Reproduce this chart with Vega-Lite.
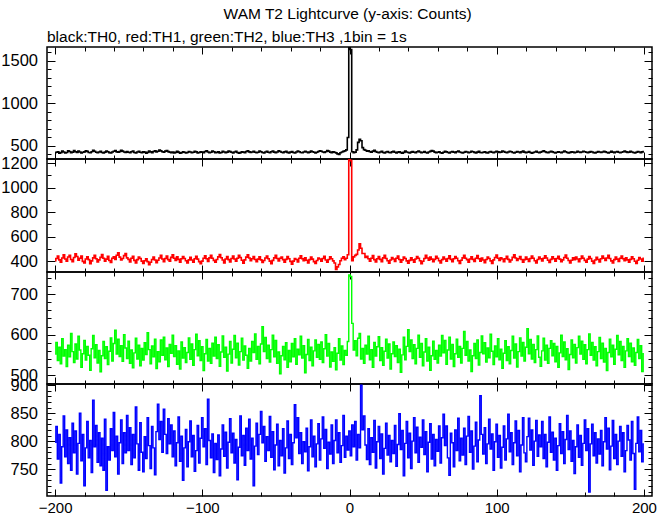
{
"$schema": "https://vega.github.io/schema/vega-lite/v6.json",
"padding": {"left": 0, "top": 7, "right": 12, "bottom": 0},
"background": "white",
"bounds": "flush",
"title": {"text": "WAM T2 Lightcurve (y-axis: Counts)", "anchor": "middle", "dx": 19, "font": "Liberation Sans", "fontSize": 15.5, "fontWeight": "normal", "color": "black", "baseline": "alphabetic", "offset": -6},
"datasets": {"lc": [
{"t":-200,"a":418,"b":402,"c":552,"d":798},{"t":-199,"a":425,"b":420,"c":581,"d":826},{"t":-198,"a":431,"b":440,"c":536,"d":768},{"t":-197,"a":412,"b":409,"c":569,"d":812},{"t":-196,"a":420,"b":390,"c":528,"d":725},{"t":-195,"a":437,"b":425,"c":590,"d":790},{"t":-194,"a":428,"b":451,"c":547,"d":845},{"t":-193,"a":415,"b":416,"c":563,"d":772},{"t":-192,"a":422,"b":399,"c":521,"d":820},{"t":-191,"a":440,"b":433,"c":574,"d":760},
{"t":-190,"a":433,"b":447,"c":545,"d":806},{"t":-189,"a":419,"b":412,"c":603,"d":748},{"t":-188,"a":426,"b":394,"c":558,"d":832},{"t":-187,"a":445,"b":429,"c":531,"d":779},{"t":-186,"a":430,"b":460,"c":577,"d":818},{"t":-185,"a":421,"b":437,"c":540,"d":741},{"t":-184,"a":438,"b":406,"c":596,"d":796},{"t":-183,"a":427,"b":422,"c":562,"d":850},{"t":-182,"a":416,"b":441,"c":519,"d":765},{"t":-181,"a":424,"b":397,"c":553,"d":812},
{"t":-180,"a":429,"b":385,"c":586,"d":720},{"t":-179,"a":441,"b":416,"c":537,"d":788},{"t":-178,"a":435,"b":434,"c":571,"d":835},{"t":-177,"a":422,"b":411,"c":549,"d":770},{"t":-176,"a":418,"b":377,"c":512,"d":801},{"t":-175,"a":430,"b":401,"c":565,"d":744},{"t":-174,"a":447,"b":426,"c":598,"d":873},{"t":-173,"a":436,"b":446,"c":543,"d":790},{"t":-172,"a":425,"b":419,"c":575,"d":828},{"t":-171,"a":419,"b":392,"c":530,"d":762},
{"t":-170,"a":428,"b":409,"c":561,"d":815},{"t":-169,"a":434,"b":430,"c":508,"d":756},{"t":-168,"a":421,"b":453,"c":548,"d":805},{"t":-167,"a":415,"b":422,"c":583,"d":748},{"t":-166,"a":426,"b":398,"c":541,"d":839},{"t":-165,"a":439,"b":415,"c":570,"d":712},{"t":-164,"a":431,"b":439,"c":526,"d":790},{"t":-163,"a":420,"b":404,"c":559,"d":766},{"t":-162,"a":417,"b":388,"c":592,"d":822},{"t":-161,"a":427,"b":423,"c":535,"d":783},
{"t":-160,"a":436,"b":434,"c":578,"d":851},{"t":-159,"a":443,"b":412,"c":611,"d":772},{"t":-158,"a":429,"b":447,"c":552,"d":809},{"t":-157,"a":424,"b":468,"c":589,"d":741},{"t":-156,"a":432,"b":432,"c":546,"d":797},{"t":-155,"a":446,"b":408,"c":573,"d":838},{"t":-154,"a":438,"b":420,"c":534,"d":760},{"t":-153,"a":427,"b":444,"c":600,"d":815},{"t":-152,"a":421,"b":461,"c":567,"d":779},{"t":-151,"a":433,"b":426,"c":541,"d":846},
{"t":-150,"a":425,"b":413,"c":584,"d":783},{"t":-149,"a":418,"b":392,"c":529,"d":824},{"t":-148,"a":430,"b":423,"c":562,"d":758},{"t":-147,"a":437,"b":439,"c":518,"d":812},{"t":-146,"a":422,"b":405,"c":555,"d":770},{"t":-145,"a":416,"b":384,"c":591,"d":861},{"t":-144,"a":428,"b":411,"c":540,"d":795},{"t":-143,"a":435,"b":432,"c":574,"d":748},{"t":-142,"a":424,"b":420,"c":523,"d":833},{"t":-141,"a":419,"b":399,"c":566,"d":780},
{"t":-140,"a":431,"b":380,"c":537,"d":745},{"t":-139,"a":426,"b":402,"c":580,"d":808},{"t":-138,"a":414,"b":419,"c":551,"d":769},{"t":-137,"a":423,"b":395,"c":605,"d":842},{"t":-136,"a":438,"b":369,"c":563,"d":792},{"t":-135,"a":429,"b":390,"c":528,"d":751},{"t":-134,"a":420,"b":412,"c":572,"d":826},{"t":-133,"a":433,"b":433,"c":545,"d":788},{"t":-132,"a":442,"b":408,"c":589,"d":740},{"t":-131,"a":427,"b":387,"c":516,"d":817},
{"t":-130,"a":436,"b":406,"c":558,"d":866},{"t":-129,"a":449,"b":425,"c":533,"d":803},{"t":-128,"a":440,"b":446,"c":587,"d":835},{"t":-127,"a":431,"b":416,"c":549,"d":780},{"t":-126,"a":425,"b":394,"c":594,"d":857},{"t":-125,"a":437,"b":420,"c":538,"d":812},{"t":-124,"a":444,"b":441,"c":567,"d":778},{"t":-123,"a":432,"b":411,"c":521,"d":840},{"t":-122,"a":426,"b":398,"c":576,"d":795},{"t":-121,"a":420,"b":430,"c":554,"d":829},
{"t":-120,"a":428,"b":450,"c":599,"d":772},{"t":-119,"a":417,"b":423,"c":546,"d":818},{"t":-118,"a":423,"b":404,"c":573,"d":756},{"t":-117,"a":434,"b":434,"c":527,"d":797},{"t":-116,"a":426,"b":413,"c":560,"d":843},{"t":-115,"a":413,"b":391,"c":515,"d":764},{"t":-114,"a":419,"b":418,"c":582,"d":809},{"t":-113,"a":430,"b":437,"c":542,"d":730},{"t":-112,"a":425,"b":420,"c":568,"d":788},{"t":-111,"a":416,"b":402,"c":531,"d":821},
{"t":-110,"a":421,"b":384,"c":556,"d":754},{"t":-109,"a":432,"b":409,"c":592,"d":799},{"t":-108,"a":427,"b":430,"c":539,"d":836},{"t":-107,"a":418,"b":408,"c":577,"d":772},{"t":-106,"a":424,"b":390,"c":524,"d":810},{"t":-105,"a":436,"b":419,"c":563,"d":746},{"t":-104,"a":429,"b":439,"c":601,"d":783},{"t":-103,"a":415,"b":415,"c":548,"d":828},{"t":-102,"a":422,"b":395,"c":585,"d":761},{"t":-101,"a":431,"b":378,"c":536,"d":805},
{"t":-100,"a":426,"b":399,"c":570,"d":842},{"t":-99,"a":419,"b":422,"c":511,"d":790},{"t":-98,"a":433,"b":443,"c":553,"d":822},{"t":-97,"a":441,"b":418,"c":588,"d":758},{"t":-96,"a":428,"b":397,"c":535,"d":875},{"t":-95,"a":420,"b":426,"c":566,"d":801},{"t":-94,"a":425,"b":447,"c":529,"d":770},{"t":-93,"a":437,"b":423,"c":579,"d":813},{"t":-92,"a":430,"b":405,"c":547,"d":744},{"t":-91,"a":418,"b":390,"c":594,"d":796},
{"t":-90,"a":423,"b":412,"c":541,"d":767},{"t":-89,"a":429,"b":434,"c":575,"d":811},{"t":-88,"a":416,"b":453,"c":522,"d":738},{"t":-87,"a":421,"b":427,"c":557,"d":786},{"t":-86,"a":434,"b":408,"c":597,"d":829},{"t":-85,"a":427,"b":385,"c":544,"d":773},{"t":-84,"a":419,"b":416,"c":569,"d":816},{"t":-83,"a":426,"b":436,"c":510,"d":752},{"t":-82,"a":438,"b":411,"c":552,"d":798},{"t":-81,"a":432,"b":392,"c":583,"d":840},
{"t":-80,"a":424,"b":420,"c":530,"d":779},{"t":-79,"a":417,"b":440,"c":564,"d":814},{"t":-78,"a":428,"b":416,"c":598,"d":761},{"t":-77,"a":435,"b":398,"c":543,"d":803},{"t":-76,"a":422,"b":423,"c":579,"d":731},{"t":-75,"a":414,"b":446,"c":525,"d":789},{"t":-74,"a":420,"b":429,"c":558,"d":845},{"t":-73,"a":431,"b":406,"c":591,"d":774},{"t":-72,"a":426,"b":383,"c":537,"d":810},{"t":-71,"a":419,"b":409,"c":572,"d":757},
{"t":-70,"a":433,"b":432,"c":549,"d":823},{"t":-69,"a":440,"b":450,"c":517,"d":783},{"t":-68,"a":429,"b":425,"c":566,"d":839},{"t":-67,"a":421,"b":402,"c":535,"d":768},{"t":-66,"a":427,"b":419,"c":583,"d":805},{"t":-65,"a":436,"b":437,"c":556,"d":720},{"t":-64,"a":424,"b":412,"c":602,"d":791},{"t":-63,"a":418,"b":394,"c":539,"d":832},{"t":-62,"a":425,"b":415,"c":571,"d":776},{"t":-61,"a":439,"b":434,"c":528,"d":812},
{"t":-60,"a":431,"b":409,"c":577,"d":853},{"t":-59,"a":422,"b":388,"c":620,"d":797},{"t":-58,"a":416,"b":404,"c":558,"d":826},{"t":-57,"a":428,"b":425,"c":593,"d":764},{"t":-56,"a":434,"b":441,"c":541,"d":808},{"t":-55,"a":425,"b":419,"c":574,"d":783},{"t":-54,"a":419,"b":399,"c":532,"d":844},{"t":-53,"a":430,"b":378,"c":563,"d":771},{"t":-52,"a":437,"b":405,"c":599,"d":817},{"t":-51,"a":426,"b":426,"c":545,"d":749},
{"t":-50,"a":420,"b":446,"c":586,"d":793},{"t":-49,"a":427,"b":420,"c":529,"d":830},{"t":-48,"a":441,"b":401,"c":557,"d":756},{"t":-47,"a":433,"b":422,"c":503,"d":801},{"t":-46,"a":424,"b":433,"c":548,"d":774},{"t":-45,"a":418,"b":411,"c":571,"d":822},{"t":-44,"a":429,"b":391,"c":538,"d":743},{"t":-43,"a":436,"b":413,"c":580,"d":788},{"t":-42,"a":423,"b":436,"c":519,"d":836},{"t":-41,"a":417,"b":418,"c":561,"d":769},
{"t":-40,"a":426,"b":397,"c":533,"d":812},{"t":-39,"a":432,"b":374,"c":578,"d":758},{"t":-38,"a":421,"b":399,"c":545,"d":797},{"t":-37,"a":415,"b":420,"c":590,"d":865},{"t":-36,"a":428,"b":412,"c":527,"d":806},{"t":-35,"a":438,"b":392,"c":564,"d":842},{"t":-34,"a":430,"b":423,"c":550,"d":778},{"t":-33,"a":422,"b":443,"c":596,"d":815},{"t":-32,"a":419,"b":419,"c":542,"d":760},{"t":-31,"a":427,"b":402,"c":573,"d":799},
{"t":-30,"a":435,"b":426,"c":506,"d":781},{"t":-29,"a":428,"b":406,"c":551,"d":823},{"t":-28,"a":420,"b":385,"c":588,"d":747},{"t":-27,"a":426,"b":411,"c":536,"d":790},{"t":-26,"a":439,"b":432,"c":569,"d":838},{"t":-25,"a":431,"b":415,"c":523,"d":772},{"t":-24,"a":424,"b":395,"c":560,"d":809},{"t":-23,"a":417,"b":380,"c":587,"d":754},{"t":-22,"a":425,"b":404,"c":544,"d":795},{"t":-21,"a":433,"b":425,"c":576,"d":831},
{"t":-20,"a":442,"b":416,"c":539,"d":766},{"t":-19,"a":436,"b":398,"c":582,"d":804},{"t":-18,"a":427,"b":420,"c":531,"d":843},{"t":-17,"a":421,"b":439,"c":565,"d":787},{"t":-16,"a":430,"b":408,"c":600,"d":821},{"t":-15,"a":445,"b":390,"c":547,"d":751},{"t":-14,"a":438,"b":412,"c":578,"d":798},{"t":-13,"a":426,"b":434,"c":520,"d":777},{"t":-12,"a":420,"b":418,"c":557,"d":829},{"t":-11,"a":431,"b":401,"c":534,"d":760},
{"t":-10,"a":424,"b":384,"c":568,"d":801},{"t":-9,"a":417,"b":330,"c":513,"d":838},{"t":-8,"a":405,"b":352,"c":554,"d":779},{"t":-7,"a":398,"b":372,"c":590,"d":815},{"t":-6,"a":419,"b":402,"c":537,"d":762},{"t":-5,"a":428,"b":422,"c":572,"d":792},{"t":-4,"a":434,"b":434,"c":526,"d":846},{"t":-3,"a":440,"b":411,"c":561,"d":771},{"t":-2,"a":452,"b":423,"c":549,"d":809},{"t":-1,"a":598,"b":451,"c":583,"d":784},
{"t":0,"a":1655,"b":1230,"c":748,"d":818},{"t":1,"a":1630,"b":1222,"c":744,"d":774},{"t":2,"a":430,"b":402,"c":628,"d":829},{"t":3,"a":418,"b":434,"c":562,"d":790},{"t":4,"a":426,"b":446,"c":585,"d":835},{"t":5,"a":452,"b":454,"c":548,"d":766},{"t":6,"a":540,"b":490,"c":591,"d":812},{"t":7,"a":575,"b":540,"c":603,"d":788},{"t":8,"a":560,"b":505,"c":540,"d":900},{"t":9,"a":478,"b":462,"c":566,"d":820},
{"t":10,"a":455,"b":462,"c":529,"d":845},{"t":11,"a":448,"b":430,"c":574,"d":793},{"t":12,"a":436,"b":439,"c":552,"d":767},{"t":13,"a":441,"b":418,"c":596,"d":822},{"t":14,"a":430,"b":398,"c":538,"d":758},{"t":15,"a":425,"b":423,"c":563,"d":806},{"t":16,"a":437,"b":444,"c":519,"d":780},{"t":17,"a":446,"b":411,"c":581,"d":837},{"t":18,"a":432,"b":392,"c":547,"d":752},{"t":19,"a":424,"b":419,"c":570,"d":799},
{"t":20,"a":419,"b":436,"c":595,"d":826},{"t":21,"a":428,"b":413,"c":536,"d":769},{"t":22,"a":435,"b":395,"c":568,"d":813},{"t":23,"a":422,"b":426,"c":524,"d":741},{"t":24,"a":416,"b":447,"c":559,"d":787},{"t":25,"a":427,"b":420,"c":589,"d":832},{"t":26,"a":433,"b":402,"c":542,"d":775},{"t":27,"a":421,"b":383,"c":577,"d":810},{"t":28,"a":418,"b":408,"c":515,"d":763},{"t":29,"a":429,"b":429,"c":553,"d":801},
{"t":30,"a":436,"b":416,"c":582,"d":778},{"t":31,"a":424,"b":397,"c":546,"d":828},{"t":32,"a":417,"b":423,"c":573,"d":755},{"t":33,"a":426,"b":441,"c":531,"d":794},{"t":34,"a":431,"b":412,"c":564,"d":849},{"t":35,"a":420,"b":391,"c":507,"d":785},{"t":36,"a":414,"b":409,"c":550,"d":819},{"t":37,"a":423,"b":432,"c":594,"d":738},{"t":38,"a":437,"b":420,"c":538,"d":796},{"t":39,"a":428,"b":401,"c":571,"d":835},
{"t":40,"a":421,"b":383,"c":612,"d":770},{"t":41,"a":415,"b":405,"c":558,"d":814},{"t":42,"a":426,"b":427,"c":587,"d":751},{"t":43,"a":433,"b":409,"c":541,"d":800},{"t":44,"a":424,"b":390,"c":575,"d":842},{"t":45,"a":418,"b":416,"c":528,"d":779},{"t":46,"a":430,"b":437,"c":566,"d":825},{"t":47,"a":438,"b":422,"c":599,"d":762},{"t":48,"a":427,"b":402,"c":544,"d":807},{"t":49,"a":420,"b":378,"c":578,"d":789},
{"t":50,"a":425,"b":398,"c":523,"d":838},{"t":51,"a":432,"b":420,"c":557,"d":776},{"t":52,"a":421,"b":446,"c":590,"d":817},{"t":53,"a":416,"b":425,"c":535,"d":745},{"t":54,"a":428,"b":406,"c":569,"d":798},{"t":55,"a":434,"b":432,"c":512,"d":831},{"t":56,"a":445,"b":415,"c":548,"d":768},{"t":57,"a":437,"b":394,"c":584,"d":812},{"t":58,"a":426,"b":413,"c":539,"d":756},{"t":59,"a":419,"b":439,"c":561,"d":803},
{"t":60,"a":424,"b":423,"c":530,"d":782},{"t":61,"a":430,"b":402,"c":574,"d":827},{"t":62,"a":418,"b":384,"c":547,"d":761},{"t":63,"a":413,"b":411,"c":598,"d":806},{"t":64,"a":425,"b":433,"c":555,"d":848},{"t":65,"a":436,"b":416,"c":586,"d":792},{"t":66,"a":429,"b":398,"c":527,"d":827},{"t":67,"a":422,"b":420,"c":562,"d":770},{"t":68,"a":417,"b":443,"c":594,"d":739},{"t":69,"a":428,"b":413,"c":540,"d":814},
{"t":70,"a":433,"b":394,"c":576,"d":797},{"t":71,"a":426,"b":418,"c":521,"d":754},{"t":72,"a":420,"b":437,"c":553,"d":820},{"t":73,"a":431,"b":422,"c":589,"d":783},{"t":74,"a":439,"b":402,"c":544,"d":841},{"t":75,"a":428,"b":380,"c":571,"d":765},{"t":76,"a":421,"b":406,"c":530,"d":805},{"t":77,"a":415,"b":426,"c":566,"d":775},{"t":78,"a":424,"b":447,"c":608,"d":823},{"t":79,"a":432,"b":423,"c":549,"d":758},
{"t":80,"a":427,"b":411,"c":583,"d":809},{"t":81,"a":419,"b":391,"c":535,"d":844},{"t":82,"a":425,"b":416,"c":562,"d":780},{"t":83,"a":436,"b":434,"c":509,"d":818},{"t":84,"a":430,"b":413,"c":548,"d":750},{"t":85,"a":423,"b":397,"c":578,"d":791},{"t":86,"a":417,"b":422,"c":541,"d":834},{"t":87,"a":426,"b":444,"c":587,"d":763},{"t":88,"a":434,"b":419,"c":525,"d":802},{"t":89,"a":421,"b":399,"c":556,"d":881},
{"t":90,"a":418,"b":425,"c":597,"d":812},{"t":91,"a":424,"b":408,"c":553,"d":777},{"t":92,"a":431,"b":387,"c":580,"d":824},{"t":93,"a":420,"b":412,"c":532,"d":760},{"t":94,"a":415,"b":432,"c":567,"d":795},{"t":95,"a":427,"b":420,"c":543,"d":839},{"t":96,"a":433,"b":401,"c":601,"d":786},{"t":97,"a":425,"b":381,"c":559,"d":813},{"t":98,"a":419,"b":409,"c":526,"d":748},{"t":99,"a":428,"b":429,"c":572,"d":799},
{"t":100,"a":436,"b":448,"c":545,"d":830},{"t":101,"a":429,"b":422,"c":590,"d":771},{"t":102,"a":421,"b":404,"c":538,"d":810},{"t":103,"a":426,"b":426,"c":564,"d":752},{"t":104,"a":438,"b":416,"c":517,"d":789},{"t":105,"a":432,"b":395,"c":554,"d":827},{"t":106,"a":424,"b":419,"c":585,"d":766},{"t":107,"a":418,"b":439,"c":536,"d":804},{"t":108,"a":427,"b":413,"c":570,"d":848},{"t":109,"a":435,"b":392,"c":528,"d":781},
{"t":110,"a":430,"b":408,"c":561,"d":815},{"t":111,"a":422,"b":430,"c":596,"d":758},{"t":112,"a":416,"b":451,"c":542,"d":797},{"t":113,"a":425,"b":425,"c":577,"d":836},{"t":114,"a":433,"b":405,"c":520,"d":774},{"t":115,"a":427,"b":418,"c":558,"d":819},{"t":116,"a":420,"b":436,"c":592,"d":745},{"t":117,"a":429,"b":412,"c":547,"d":793},{"t":118,"a":437,"b":390,"c":581,"d":842},{"t":119,"a":426,"b":411,"c":535,"d":779},
{"t":120,"a":419,"b":433,"c":569,"d":763},{"t":121,"a":425,"b":415,"c":615,"d":808},{"t":122,"a":432,"b":397,"c":553,"d":841},{"t":123,"a":421,"b":420,"c":588,"d":784},{"t":124,"a":414,"b":440,"c":540,"d":820},{"t":125,"a":422,"b":423,"c":576,"d":757},{"t":126,"a":428,"b":402,"c":531,"d":800},{"t":127,"a":435,"b":385,"c":563,"d":837},{"t":128,"a":424,"b":412,"c":597,"d":773},{"t":129,"a":418,"b":432,"c":544,"d":811},
{"t":130,"a":426,"b":419,"c":522,"d":790},{"t":131,"a":433,"b":401,"c":560,"d":835},{"t":132,"a":440,"b":422,"c":591,"d":769},{"t":133,"a":431,"b":443,"c":537,"d":812},{"t":134,"a":423,"b":425,"c":574,"d":754},{"t":135,"a":419,"b":406,"c":529,"d":798},{"t":136,"a":427,"b":388,"c":566,"d":843},{"t":137,"a":436,"b":413,"c":585,"d":780},{"t":138,"a":429,"b":434,"c":548,"d":816},{"t":139,"a":421,"b":418,"c":578,"d":766},
{"t":140,"a":417,"b":398,"c":533,"d":805},{"t":141,"a":424,"b":420,"c":571,"d":748},{"t":142,"a":431,"b":439,"c":519,"d":792},{"t":143,"a":425,"b":415,"c":555,"d":831},{"t":144,"a":418,"b":394,"c":599,"d":778},{"t":145,"a":428,"b":409,"c":546,"d":817},{"t":146,"a":437,"b":429,"c":582,"d":760},{"t":147,"a":430,"b":448,"c":538,"d":803},{"t":148,"a":422,"b":422,"c":565,"d":846},{"t":149,"a":416,"b":404,"c":514,"d":785},
{"t":150,"a":423,"b":385,"c":551,"d":818},{"t":151,"a":430,"b":406,"c":587,"d":764},{"t":152,"a":426,"b":426,"c":543,"d":801},{"t":153,"a":419,"b":411,"c":576,"d":742},{"t":154,"a":425,"b":433,"c":530,"d":790},{"t":155,"a":434,"b":416,"c":568,"d":829},{"t":156,"a":428,"b":395,"c":596,"d":771},{"t":157,"a":421,"b":418,"c":552,"d":810},{"t":158,"a":427,"b":441,"c":584,"d":757},{"t":159,"a":436,"b":423,"c":539,"d":796},
{"t":160,"a":431,"b":405,"c":575,"d":838},{"t":161,"a":424,"b":390,"c":528,"d":783},{"t":162,"a":418,"b":415,"c":563,"d":822},{"t":163,"a":426,"b":436,"c":602,"d":709},{"t":164,"a":433,"b":420,"c":549,"d":795},{"t":165,"a":427,"b":399,"c":581,"d":830},{"t":166,"a":420,"b":381,"c":537,"d":774},{"t":167,"a":415,"b":408,"c":570,"d":815},{"t":168,"a":424,"b":430,"c":523,"d":761},{"t":169,"a":432,"b":412,"c":558,"d":804},
{"t":170,"a":428,"b":392,"c":593,"d":777},{"t":171,"a":421,"b":419,"c":541,"d":819},{"t":172,"a":427,"b":440,"c":579,"d":756},{"t":173,"a":435,"b":423,"c":532,"d":799},{"t":174,"a":429,"b":404,"c":566,"d":842},{"t":175,"a":422,"b":425,"c":511,"d":786},{"t":176,"a":417,"b":446,"c":556,"d":823},{"t":177,"a":425,"b":420,"c":589,"d":749},{"t":178,"a":434,"b":401,"c":545,"d":791},{"t":179,"a":426,"b":384,"c":574,"d":837},
{"t":180,"a":420,"b":411,"c":527,"d":769},{"t":181,"a":427,"b":433,"c":564,"d":812},{"t":182,"a":433,"b":415,"c":598,"d":758},{"t":183,"a":425,"b":397,"c":550,"d":800},{"t":184,"a":418,"b":422,"c":583,"d":826},{"t":185,"a":424,"b":441,"c":536,"d":773},{"t":186,"a":431,"b":418,"c":571,"d":815},{"t":187,"a":438,"b":402,"c":519,"d":745},{"t":188,"a":429,"b":426,"c":560,"d":783},{"t":189,"a":422,"b":409,"c":590,"d":828},
{"t":190,"a":426,"b":390,"c":546,"d":802},{"t":191,"a":434,"b":413,"c":579,"d":766},{"t":192,"a":428,"b":434,"c":533,"d":835},{"t":193,"a":421,"b":419,"c":567,"d":778},{"t":194,"a":417,"b":398,"c":524,"d":714},{"t":195,"a":425,"b":380,"c":556,"d":796},{"t":196,"a":432,"b":406,"c":588,"d":843},{"t":197,"a":427,"b":429,"c":541,"d":781},{"t":198,"a":420,"b":416,"c":573,"d":819},{"t":199,"a":429,"b":399,"c":509,"d":763},
{"t":200,"a":433,"b":422,"c":553,"d":795}
]},
"data": {"name": "lc"},
"spacing": 0,
"vconcat": [
 {"title": {"text": "black:TH0, red:TH1, green:TH2, blue:TH3 ,1bin = 1s", "anchor": "start", "frame": "group", "font": "Liberation Sans", "fontSize": 15.5, "fontWeight": "normal", "color": "black", "baseline": "alphabetic", "offset": -13},
  "width": 605, "height": 112,
  "layer": [
   {"mark": {"type": "line", "interpolate": "step", "color": "black", "strokeWidth": 1.6, "clip": true},
    "encoding": {
     "x": {"field": "t", "type": "quantitative", "scale": {"domain": [-205.5, 205.5], "nice": false, "zero": false},
       "axis": {"orient": "bottom", "title": null, "labels": false, "values": [-200,-180,-160,-140,-120,-100,-80,-60,-40,-20,0,20,40,60,80,100,120,140,160,180,200], "tickSize": {"condition": {"test": "datum.value % 100 === 0", "value": -7}, "value": -4}}},
     "y": {"field": "a", "type": "quantitative", "scale": {"domain": [345, 1660], "nice": false, "zero": false},
       "axis": {"orient": "left", "title": null, "format": "d", "labelPadding": 17.5, "values": [400,500,600,700,800,900,1000,1100,1200,1300,1400,1500,1600], "labelExpr": "datum.value % 500 === 0 ? datum.label : ''", "tickSize": {"condition": {"test": "datum.value % 500 === 0", "value": -8}, "value": -4}}}
    }},
   {"mark": {"type": "line", "opacity": 0},
    "encoding": {
     "x": {"field": "t", "type": "quantitative", "axis": {"orient": "top", "title": null, "labels": false, "values": [-200,-180,-160,-140,-120,-100,-80,-60,-40,-20,0,20,40,60,80,100,120,140,160,180,200], "tickSize": {"condition": {"test": "datum.value % 100 === 0", "value": -7}, "value": -4}}},
     "y": {"field": "a", "type": "quantitative", "axis": {"orient": "right", "title": null, "labels": false, "values": [400,500,600,700,800,900,1000,1100,1200,1300,1400,1500,1600], "tickSize": {"condition": {"test": "datum.value % 500 === 0", "value": -8}, "value": -4}}}
    }}
  ],
  "resolve": {"axis": {"x": "independent", "y": "independent"}}
 },
 {"width": 605, "height": 113,
  "layer": [
   {"mark": {"type": "line", "interpolate": "step", "color": "red", "strokeWidth": 1.6, "clip": true},
    "encoding": {
     "x": {"field": "t", "type": "quantitative", "scale": {"domain": [-205.5, 205.5], "nice": false, "zero": false},
       "axis": {"orient": "bottom", "title": null, "labels": false, "values": [-200,-180,-160,-140,-120,-100,-80,-60,-40,-20,0,20,40,60,80,100,120,140,160,180,200], "tickSize": {"condition": {"test": "datum.value % 100 === 0", "value": -7}, "value": -4}}},
     "y": {"field": "b", "type": "quantitative", "scale": {"domain": [310, 1235], "nice": false, "zero": false},
       "axis": {"orient": "left", "title": null, "format": "d", "labelPadding": 17.5, "values": [400,500,600,700,800,900,1000,1100,1200], "labelExpr": "datum.value % 200 === 0 ? datum.label : ''", "tickSize": {"condition": {"test": "datum.value % 200 === 0", "value": -8}, "value": -4}}}
    }},
   {"mark": {"type": "line", "opacity": 0},
    "encoding": {
     "x": {"field": "t", "type": "quantitative", "axis": {"orient": "top", "title": null, "labels": false, "values": [-200,-180,-160,-140,-120,-100,-80,-60,-40,-20,0,20,40,60,80,100,120,140,160,180,200], "tickSize": {"condition": {"test": "datum.value % 100 === 0", "value": -7}, "value": -4}}},
     "y": {"field": "b", "type": "quantitative", "axis": {"orient": "right", "title": null, "labels": false, "values": [400,500,600,700,800,900,1000,1100,1200], "tickSize": {"condition": {"test": "datum.value % 200 === 0", "value": -8}, "value": -4}}}
    }}
  ],
  "resolve": {"axis": {"x": "independent", "y": "independent"}}
 },
 {"width": 605, "height": 112,
  "layer": [
   {"mark": {"type": "line", "interpolate": "step", "color": "#00ff00", "strokeWidth": 1.4, "clip": true},
    "encoding": {
     "x": {"field": "t", "type": "quantitative", "scale": {"domain": [-205.5, 205.5], "nice": false, "zero": false},
       "axis": {"orient": "bottom", "title": null, "labels": false, "values": [-200,-180,-160,-140,-120,-100,-80,-60,-40,-20,0,20,40,60,80,100,120,140,160,180,200], "tickSize": {"condition": {"test": "datum.value % 100 === 0", "value": -7}, "value": -4}}},
     "y": {"field": "c", "type": "quantitative", "scale": {"domain": [478, 755], "nice": false, "zero": false},
       "axis": {"orient": "left", "title": null, "format": "d", "labelPadding": 17.5, "values": [480,500,520,540,560,580,600,620,640,660,680,700,720,740], "labelExpr": "datum.value % 100 === 0 ? datum.label : ''", "tickSize": {"condition": {"test": "datum.value % 100 === 0", "value": -8}, "value": -4}}}
    }},
   {"mark": {"type": "line", "opacity": 0},
    "encoding": {
     "x": {"field": "t", "type": "quantitative", "axis": {"orient": "top", "title": null, "labels": false, "values": [-200,-180,-160,-140,-120,-100,-80,-60,-40,-20,0,20,40,60,80,100,120,140,160,180,200], "tickSize": {"condition": {"test": "datum.value % 100 === 0", "value": -7}, "value": -4}}},
     "y": {"field": "c", "type": "quantitative", "axis": {"orient": "right", "title": null, "labels": false, "values": [480,500,520,540,560,580,600,620,640,660,680,700,720,740], "tickSize": {"condition": {"test": "datum.value % 100 === 0", "value": -8}, "value": -4}}}
    }}
  ],
  "resolve": {"axis": {"x": "independent", "y": "independent"}}
 },
 {"width": 605, "height": 112,
  "layer": [
   {"mark": {"type": "line", "interpolate": "step", "color": "#0000ff", "strokeWidth": 1.4, "clip": true},
    "encoding": {
     "x": {"field": "t", "type": "quantitative", "scale": {"domain": [-205.5, 205.5], "nice": false, "zero": false},
       "axis": {"orient": "bottom", "title": null, "format": "d", "labelPadding": 11.5, "labelFontSize": 15, "values": [-200,-180,-160,-140,-120,-100,-80,-60,-40,-20,0,20,40,60,80,100,120,140,160,180,200], "labelExpr": "datum.value % 100 === 0 ? datum.label : ''", "tickSize": {"condition": {"test": "datum.value % 100 === 0", "value": -7}, "value": -4}}},
     "y": {"field": "d", "type": "quantitative", "scale": {"domain": [702, 902], "nice": false, "zero": false},
       "axis": {"orient": "left", "title": null, "format": "d", "labelPadding": 17.5, "values": [710,720,730,740,750,760,770,780,790,800,810,820,830,840,850,860,870,880,890,900], "labelExpr": "datum.value % 50 === 0 ? datum.label : ''", "tickSize": {"condition": {"test": "datum.value % 50 === 0", "value": -8}, "value": -4}}}
    }},
   {"mark": {"type": "line", "opacity": 0},
    "encoding": {
     "x": {"field": "t", "type": "quantitative", "axis": {"orient": "top", "title": null, "labels": false, "values": [-200,-180,-160,-140,-120,-100,-80,-60,-40,-20,0,20,40,60,80,100,120,140,160,180,200], "tickSize": {"condition": {"test": "datum.value % 100 === 0", "value": -7}, "value": -4}}},
     "y": {"field": "d", "type": "quantitative", "axis": {"orient": "right", "title": null, "labels": false, "values": [710,720,730,740,750,760,770,780,790,800,810,820,830,840,850,860,870,880,890,900], "tickSize": {"condition": {"test": "datum.value % 50 === 0", "value": -8}, "value": -4}}}
    }}
  ],
  "resolve": {"axis": {"x": "independent", "y": "independent"}}
 }
],
"config": {
 "view": {"stroke": "black", "strokeWidth": 1.5},
 "axis": {"domain": false, "grid": false, "tickColor": "black", "tickWidth": 1, "labelColor": "black", "labelFont": "Liberation Sans", "labelFontSize": 16.5, "labelOverlap": false, "labelFlush": false, "labelBound": false}
}
}
